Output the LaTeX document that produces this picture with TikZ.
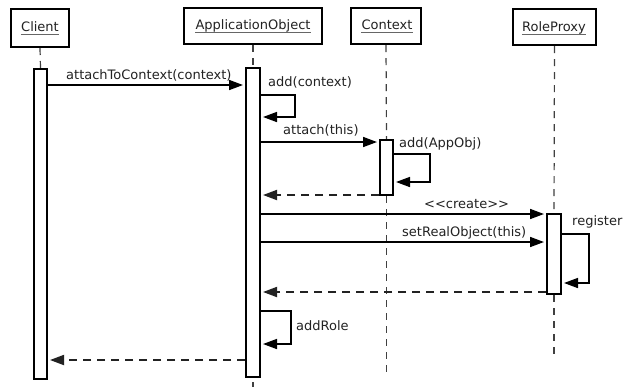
\documentclass[tikz,border=0pt]{standalone}
\usepackage{fontspec}
\setmainfont{DejaVu Sans}
\usetikzlibrary{arrows.meta}
\definecolor{ink}{HTML}{222222}
\begin{document}
\begin{tikzpicture}[x=1bp,y=-1bp,
  font=\fontsize{13bp}{15bp}\selectfont,
  objbox/.style={draw=black, line width=2bp, fill=white, inner sep=0pt},
  title/.style={inner sep=0pt, anchor=base, text=ink},
  uline/.style={draw=black!60, line width=0.9bp},
  actbar/.style={draw=black, line width=2bp, fill=white, inner sep=0pt, minimum width=14bp},
  lifeline/.style={draw=black!75, line width=1.2bp, dash pattern=on 7bp off 6bp},
  msg/.style={draw=black, line width=1.6bp, shorten >=2bp,
              -{Triangle[length=14bp,width=10bp]}},
  ret/.style={msg, draw=ink, line width=1.8bp, dash pattern=on 8bp off 6bp},
  lbl/.style={inner sep=0pt, anchor=base west, text=ink}]

\useasboundingbox (0,0) rectangle (624,386);
\fill[white] (0,0) rectangle (624,386);

% object headers
\node[objbox, minimum width=58bp, minimum height=38bp] (client) at (40,28) {};
\node[objbox, minimum width=138bp, minimum height=36bp] (appobj) at (253,26) {};
\node[objbox, minimum width=70bp, minimum height=36bp] (context) at (386,26) {};
\node[objbox, minimum width=83bp, minimum height=36bp] (proxy) at (554.5,27) {};

\node[title] (clientT) at (40,31.5) {Client};
\node[title] (appobjT) at (253,29.5) {ApplicationObject};
\node[title] (contextT) at (387,29.5) {Context};
\node[title] (proxyT) at (554,31.5) {RoleProxy};
\foreach \t in {clientT,appobjT,contextT,proxyT}
  \draw[uline] ([yshift=-2.5bp]\t.base west) -- ([yshift=-2.5bp]\t.base east);

% activation bar positions (the bars are drawn over the lifelines below)
\path (40.5,224) node[actbar, minimum width=13bp, minimum height=310bp, draw=none, fill=none] (clbar) {};
\path (253,222.5) node[actbar, minimum height=309bp, draw=none, fill=none] (aobar) {};
\path (386.5,167.5) node[actbar, minimum width=13bp, minimum height=55bp, draw=none, fill=none] (ctxbar) {};
\path (554,254) node[actbar, minimum height=80bp, draw=none, fill=none] (rpbar) {};

% lifelines
\draw[lifeline] (client.south) -- (clbar.north);
\draw[lifeline] (appobj.south) -- (aobar.north);
\draw[lifeline] (aobar.south) ++(0,4) -- ++(0,6);
\draw[lifeline] (context.south) -- (ctxbar.north);
\draw[lifeline] (ctxbar.south) -- ++(0,176);
\draw[lifeline] (proxy.south) -- (rpbar.north);
\draw[lifeline] (rpbar.south) -- ++(0,65);

% activation bars
\node[actbar, minimum width=13bp, minimum height=310bp] at (clbar) {};
\node[actbar, minimum height=309bp] at (aobar) {};
\node[actbar, minimum width=13bp, minimum height=55bp] at (ctxbar) {};
\node[actbar, minimum height=80bp] at (rpbar) {};

% messages
\draw[msg] (clbar.east |- 0,85) -- (aobar.west |- 0,85);
\node[lbl] (m1) at (66,79.5) {attachToContext(context)};

\draw[msg] (aobar.east |- 0,95) -| (295,117) -- (aobar.east |- 0,117);
\node[lbl] (m2) at (268,86) {add(context)};

\draw[msg] (aobar.east |- 0,142) -- (ctxbar.west |- 0,142);
\node[lbl] (m3) at (283,134) {attach(this)};

\draw[msg] (ctxbar.east |- 0,154) -| (430,182) -- (ctxbar.east |- 0,182);
\node[lbl] (m4) at (399,147.5) {add(AppObj)};

\draw[ret] (ctxbar.west |- 0,195) -- (aobar.east |- 0,195);

\draw[msg] (aobar.east |- 0,214) -- (rpbar.west |- 0,214);
\node[lbl] (m5) at (424,208) {{<}{<}create{>}{>}};

\draw[msg] (aobar.east |- 0,242) -- (rpbar.west |- 0,242);
\node[lbl] (m6) at (402,236) {setRealObject(this)};

\draw[msg] (rpbar.east |- 0,234) -| (589,283) -- (rpbar.east |- 0,283);
\node[lbl] (m7) at (572,225.5) {register};

\draw[ret] (rpbar.west |- 0,292) -- (aobar.east |- 0,292);

\draw[msg] (aobar.east |- 0,311) -| (291,344) -- (aobar.east |- 0,344);
\node[lbl] (m8) at (296,330.5) {addRole};

\draw[ret] (aobar.west |- 0,360) -- (clbar.east |- 0,360);

\end{tikzpicture}
\end{document}
